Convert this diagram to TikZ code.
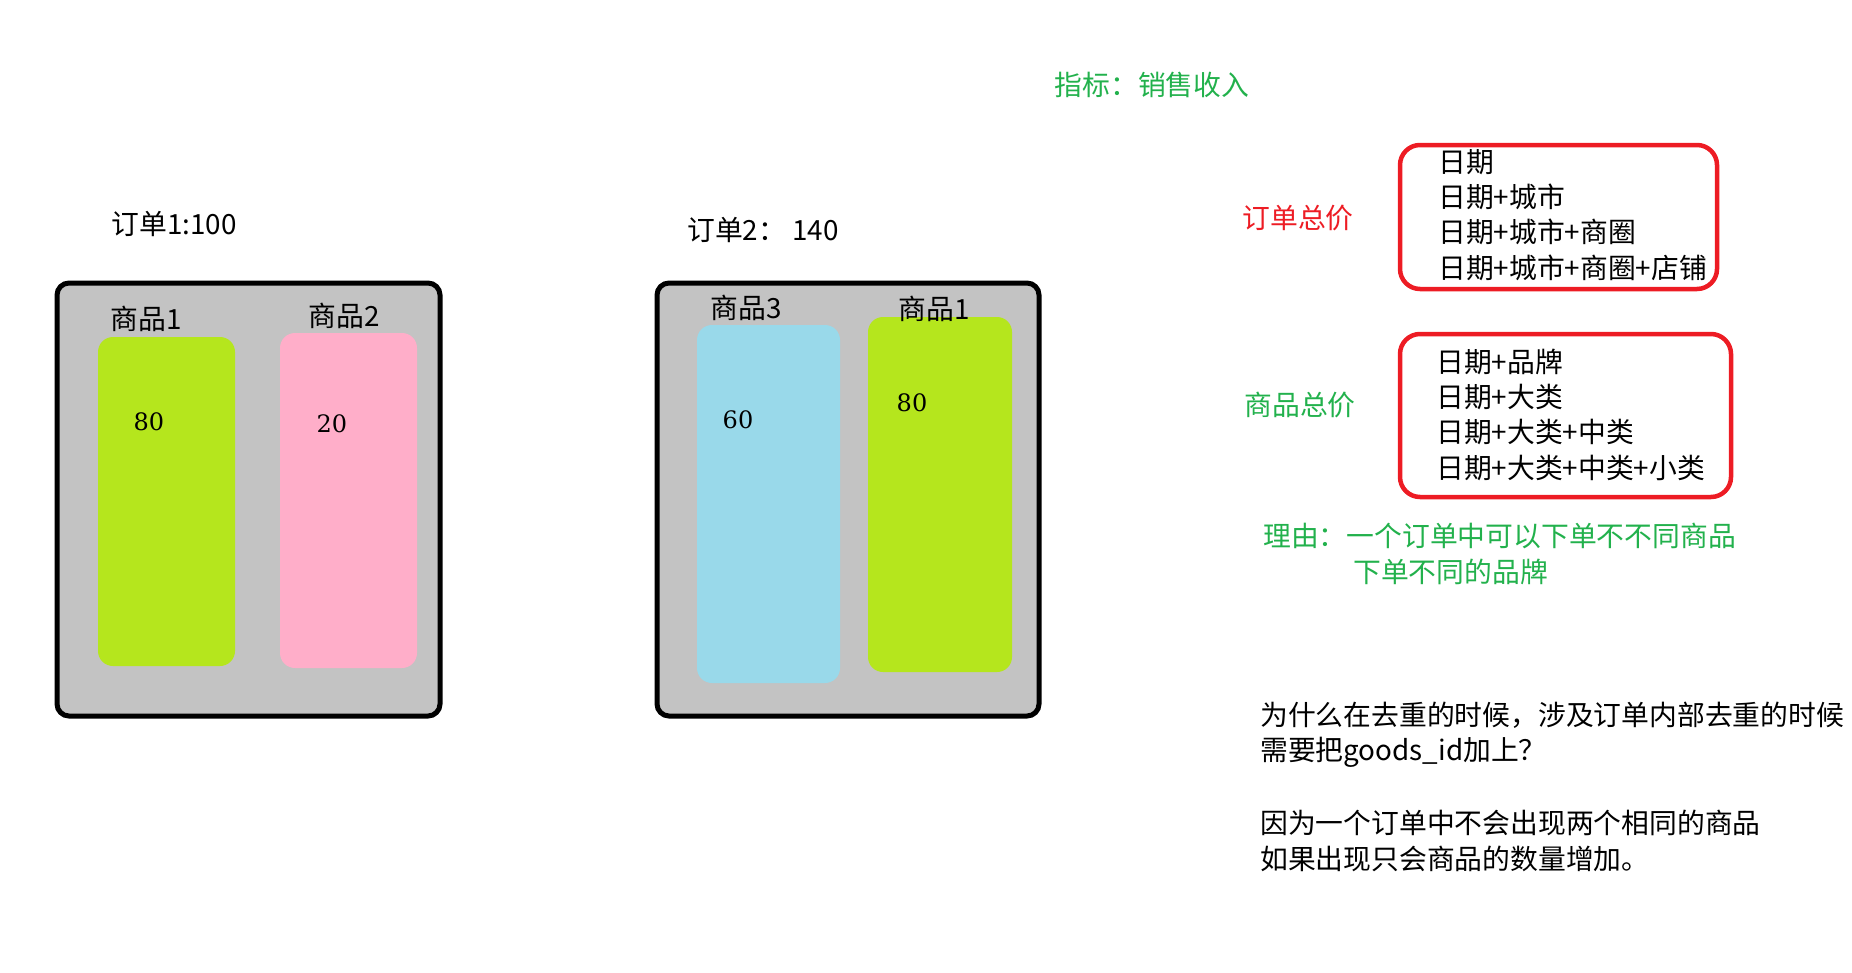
\documentclass[tikz,border=0pt]{standalone}
\usepackage{fontspec}
\newfontfamily\cjk{Noto Sans CJK SC}
\newfontfamily\digits{DejaVu Serif}
\usepackage{xcolor}
\usepackage{tikz}
\usetikzlibrary{positioning}

\definecolor{boxgray}{HTML}{C3C3C3}
\definecolor{limegood}{HTML}{B5E61D}
\definecolor{pinkgood}{HTML}{FFAEC9}
\definecolor{bluegood}{HTML}{99D9EA}
\definecolor{notegreen}{HTML}{22B14C}
\definecolor{notered}{HTML}{ED1C24}

\tikzset{
  zh/.style={font=\cjk\fontsize{27.8}{35.3}\selectfont,inner sep=0pt},
  num/.style={font=\digits\fontsize{24}{35}\selectfont,inner sep=0pt},
  orderbox/.style={draw=black,line width=5pt,fill=boxgray,rounded corners=12pt},
  goodbox/.style={rounded corners=15pt},
  dimbox/.style={draw=notered,line width=4.5pt,rounded corners=20pt}
}

\begin{document}
\begin{tikzpicture}[x=1pt,y=-1pt]
\useasboundingbox (0,0) rectangle (1852,972);
% order 1
\node[zh] (title1) at (174,224) {订单1:100};
\node[orderbox,minimum width=383pt,minimum height=433pt] (order1) at (248.5,499.5) {};
\node[goodbox,fill=limegood,minimum width=137pt,minimum height=329pt] (good1a) at (166.5,501.5) {};
\node[goodbox,fill=pinkgood,minimum width=137pt,minimum height=335pt] (good2a) at (348.5,500.5) {};
\node[zh] (lab1a) at (146,319) {商品1};
\node[zh] (lab2a) at (344,316) {商品2};
\node[num] (val1a) at (149,422) {80};
\node[num] (val2a) at (332,424) {20};
% order 2
\node[zh] (title2) at (763,230) {订单2：\ 140};
\node[orderbox,minimum width=382pt,minimum height=433pt] (order2) at (848,499.5) {};
\node[goodbox,fill=bluegood,minimum width=143pt,minimum height=358pt] (good3b) at (768.5,504) {};
\node[goodbox,fill=limegood,minimum width=144pt,minimum height=355pt] (good1b) at (940,494.5) {};
\node[zh] (lab3b) at (746,308) {商品3};
\node[zh] (lab1b) at (934,309) {商品1};
\node[num] (val3b) at (738,420) {60};
\node[num] (val1b) at (912,403) {80};
% indicator
\node[zh,text=notegreen] (metric) at (1152,85) {指标：销售收入};
\node[dimbox,minimum width=317pt,minimum height=144pt] (dims1) at (1558.5,217) {};
\node[zh,text=notered] (ordtotal) at (1298,218) {订单总价};
\node[zh,align=left,anchor=west] (dimtext1) at (1438,215) {日期\\日期+城市\\日期+城市+商圈\\日期+城市+商圈+店铺};
\node[dimbox,minimum width=331pt,minimum height=163pt] (dims2) at (1565.5,415.5) {};
\node[zh,text=notegreen] (goodtotal) at (1300,405) {商品总价};
\node[zh,align=left,anchor=west] (dimtext2) at (1436,414.5) {日期+品牌\\日期+大类\\日期+大类+中类\\日期+大类+中类+小类};
\node[zh,text=notegreen,anchor=west] (reason1) at (1263,536) {理由：一个订单中可以下单不不同商品};
\node[zh,text=notegreen,anchor=west] (reason2) at (1353,572) {下单不同的品牌};
% question
\node[zh,align=left,anchor=west] (question) at (1260,734.5) {为什么在去重的时候，涉及订单内部去重的时候\\需要把goods\_id加上？};
\node[zh,align=left,anchor=west] (answer) at (1260,841) {因为一个订单中不会出现两个相同的商品\\如果出现只会商品的数量增加。};
\end{tikzpicture}
\end{document}
